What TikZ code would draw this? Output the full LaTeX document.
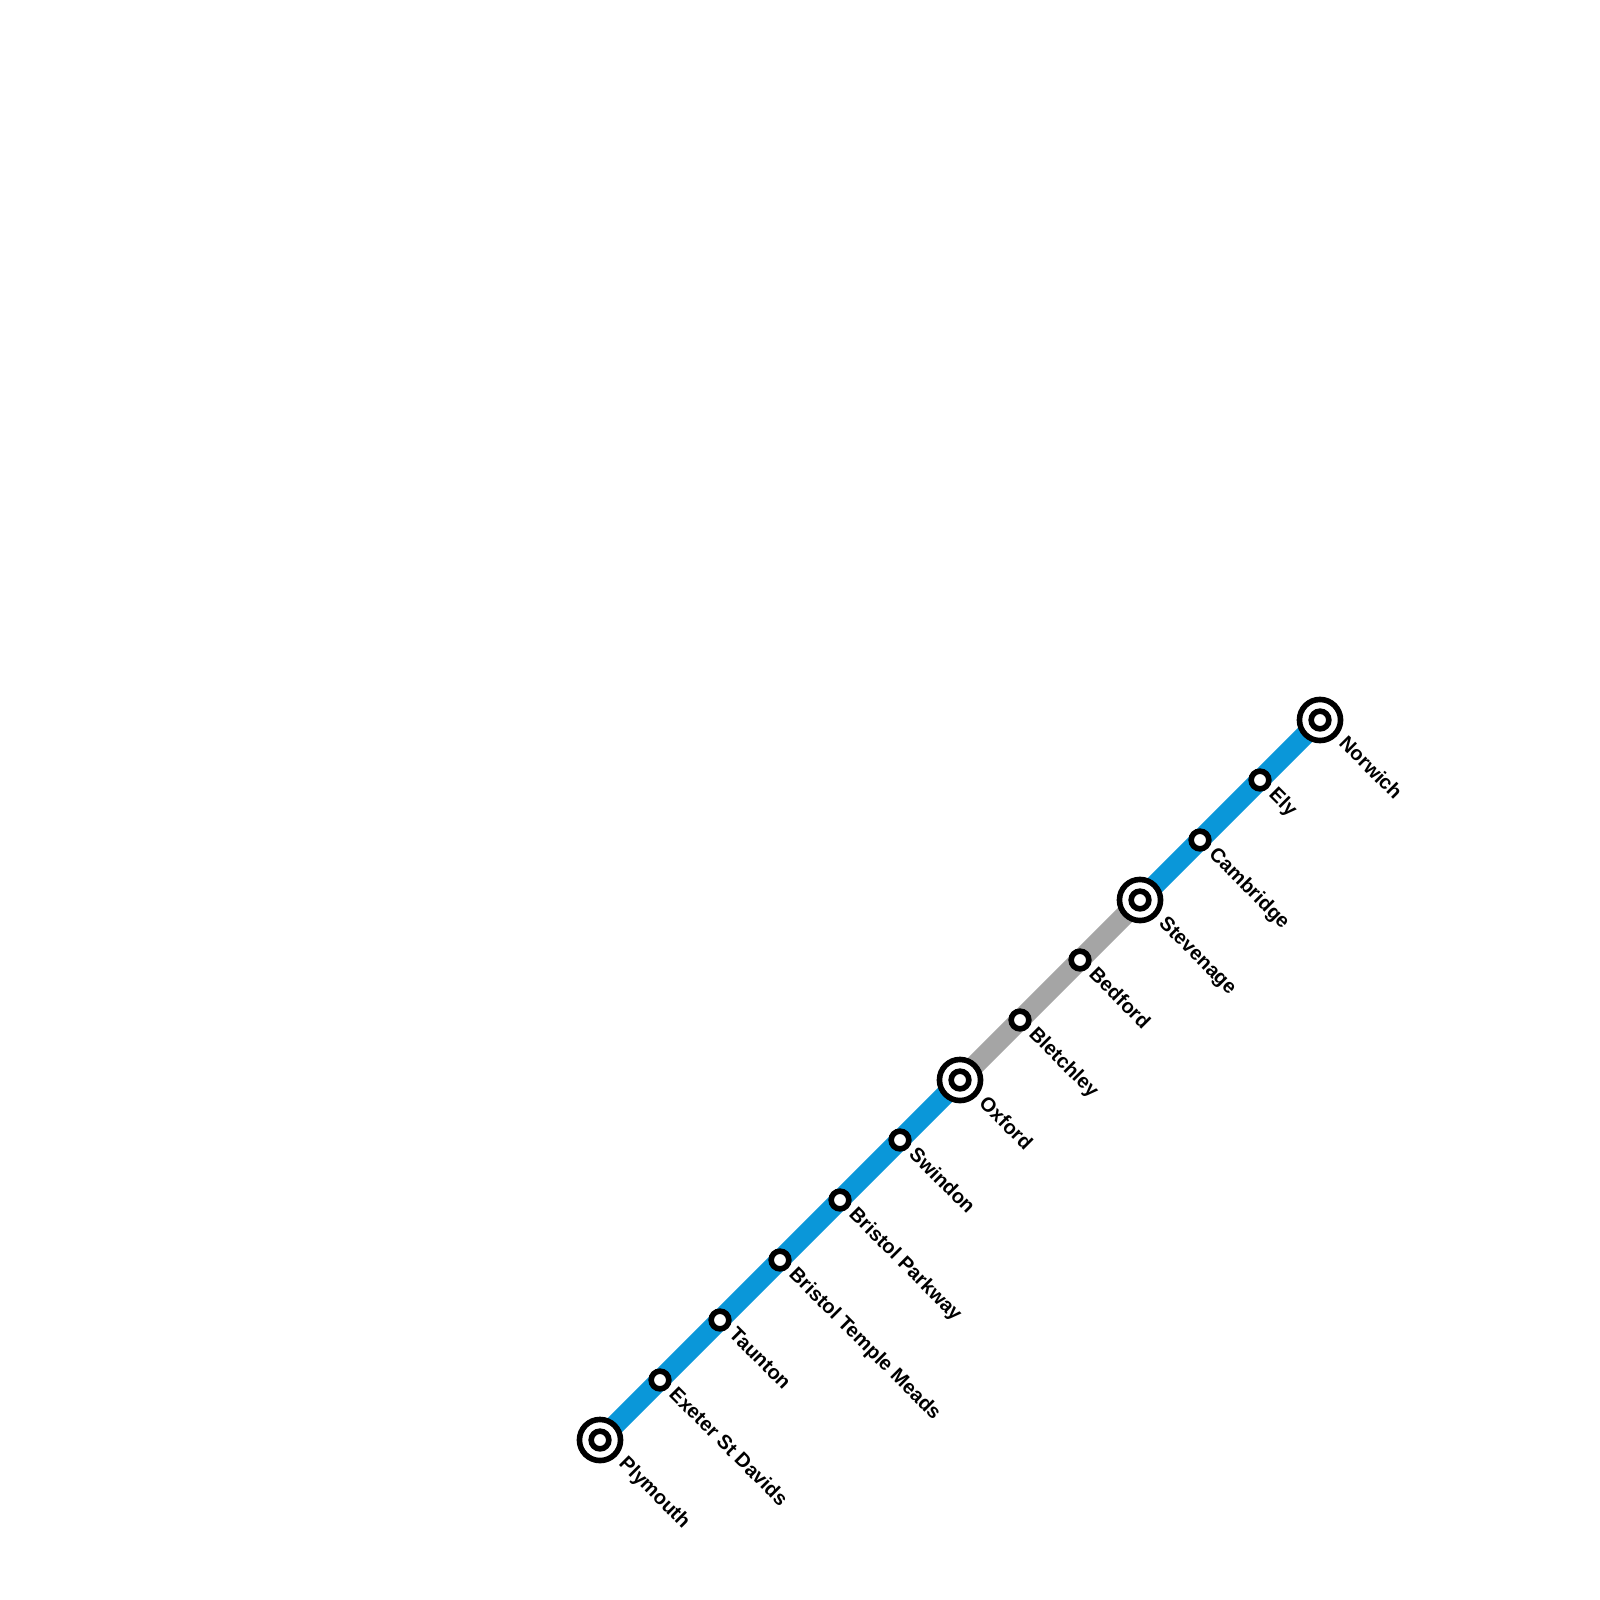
\documentclass[tikz,border=0pt]{standalone}
\usepackage{fontspec}
\setmainfont{Liberation Sans}
\definecolor{lineblue}{HTML}{0A97D9}
\definecolor{linegrey}{HTML}{A5A5A5}
\tikzset{
  x=1pt,y=-1pt,
  track/.style={line width=20pt,line cap=butt},
  stn/.style={circle,draw=black,fill=white,line width=5.6pt,inner sep=0pt,minimum size=17.7pt},
  hub/.style={circle,draw=black,fill=white,line width=5.6pt,inner sep=0pt,minimum size=41.1pt},
  lbl/.style={rotate=-45,anchor=base west,inner sep=0pt,font=\fontsize{20pt}{24pt}\selectfont\bfseries,text=black},
}
\begin{document}
\begin{tikzpicture}
\useasboundingbox (0,0) rectangle (1600,1600);
\fill[white] (0,0) rectangle (1600,1600);
% coordinates for line ends
\coordinate (pl) at (600,1440);
\coordinate (ox) at (960,1080);
\coordinate (st) at (1140,900);
\coordinate (no) at (1320,720);
\draw[track,lineblue] (pl) -- (ox);
\draw[track,linegrey] (ox) -- (st);
\draw[track,lineblue] (st) -- (no);
% hubs
\node[hub] (plH) at (pl) {}; \node[stn] (plI) at (pl) {};
\node[hub] (oxH) at (ox) {}; \node[stn] (oxI) at (ox) {};
\node[hub] (stH) at (st) {}; \node[stn] (stI) at (st) {};
\node[hub] (noH) at (no) {}; \node[stn] (noI) at (no) {};
% stations
\node[stn] (ex) at (660,1380) {};
\node[stn] (ta) at (720,1320) {};
\node[stn] (bt) at (780,1260) {};
\node[stn] (bp) at (840,1200) {};
\node[stn] (sw) at (900,1140) {};
\node[stn] (bl) at (1020,1020) {};
\node[stn] (be) at (1080,960) {};
\node[stn] (ca) at (1200,840) {};
\node[stn] (el) at (1260,780) {};
% labels
\node[lbl] (plL) at (618,1464.5) {Plymouth};
\node[lbl] (oxL) at (978,1104.5) {Oxford};
\node[lbl] (stL) at (1158,924.5) {Stevenage};
\node[lbl] (noL) at (1338,744.5) {Norwich};
\node[lbl] (exL) at (668,1395.5) {Exeter St Davids};
\node[lbl] (taL) at (728,1335.5) {Taunton};
\node[lbl] (btL) at (788,1275.5) {Bristol Temple Meads};
\node[lbl] (bpL) at (848,1215.5) {Bristol Parkway};
\node[lbl] (swL) at (908,1155.5) {Swindon};
\node[lbl] (blL) at (1028,1035.5) {Bletchley};
\node[lbl] (beL) at (1088,975.5) {Bedford};
\node[lbl] (caL) at (1208,855.5) {Cambridge};
\node[lbl] (elL) at (1268,795.5) {Ely};
\end{tikzpicture}
\end{document}
